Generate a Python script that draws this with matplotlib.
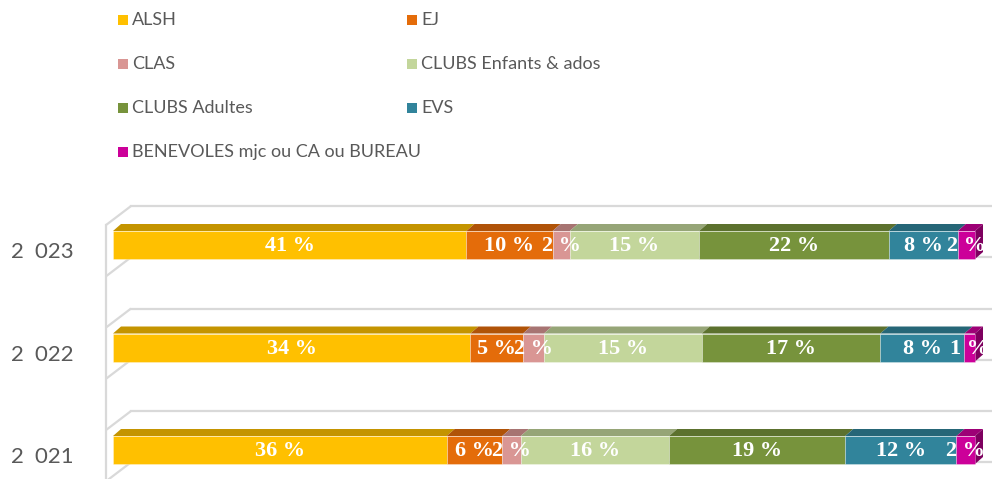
import matplotlib
matplotlib.use('Agg')
import matplotlib.pyplot as plt
from matplotlib.patches import Polygon, Rectangle
import matplotlib.colors as mcolors
import numpy as np

# ---------------- data ----------------
years = ['2 023', '2 022', '2 021']
series = ['ALSH', 'EJ', 'CLAS', 'CLUBS Enfants & ados', 'CLUBS Adultes', 'EVS',
          'BENEVOLES mjc ou CA ou BUREAU']
alsh = [41, 34, 36]
ej = [10, 5, 6]
clas = [2, 2, 2]
clubs_enfants = [15, 15, 16]
clubs_adultes = [22, 17, 19]
evs = [8, 8, 12]
benevoles = [2, 1, 2]
colors = ['#FFC000', '#E46C0A', '#D99694', '#C3D69B', '#77933C', '#31849B', '#CC0099']

values = np.array([alsh, ej, clas, clubs_enfants, clubs_adultes, evs, benevoles], dtype=float)

# ---------------- layout ----------------
W, H = 992, 479
fig = plt.figure(figsize=(W / 100, H / 100), dpi=100)
ax = fig.add_axes([0, 0, 1, 1])
px_x = 8.62      # pixels per percent unit
px_y = 102.5     # pixels per category unit
x0_px = 113
ycat_px = 245    # pixel row of top category centre
ax.set_xlim(-x0_px / px_x, (W - x0_px) / px_x)
ax.set_ylim(2 - (H - ycat_px) / px_y, 2 + ycat_px / px_y)
ax.axis('off')

n = len(years)
ypos = np.arange(n)[::-1]  # 2023 at top

def shade(c, f):
    r, g, b = mcolors.to_rgb(c)
    return (r * f, g * f, b * f)

# wall / gridlines
grid_c = '#D9D9D9'
wall_front_x = (106 - x0_px) / px_x
wall_back_x = (131 - x0_px) / px_x
wall_dy = 19 / px_y
back_lines = (n - 1) + 0.38 - 0.5 * np.arange(2 * n)
for yb in back_lines:
    ax.plot([wall_front_x, wall_back_x], [yb - wall_dy, yb], color=grid_c, lw=1.6, zorder=1,
            solid_capstyle='butt')
    ax.plot([wall_back_x, ax.get_xlim()[1]], [yb, yb], color=grid_c, lw=1.6, zorder=1)
ax.plot([wall_front_x, wall_front_x], [back_lines[0] - wall_dy, ax.get_ylim()[0]],
        color=grid_c, lw=1.6, zorder=1)

# bars
h = 14 / px_y
dx = 8 / px_x
dy = 7 / px_y
for j, yc in enumerate(ypos):
    col = values[:, j]
    shares = col / col.sum() * 100
    left = 0.0
    for i, (v, s) in enumerate(zip(col, shares)):
        c = colors[i]
        ax.add_patch(Rectangle((left, yc - h), s, 2 * h, facecolor=c,
                               edgecolor=mcolors.to_rgba('white', 0.35), lw=0.6, zorder=3))
        ax.add_patch(Polygon([(left, yc + h), (left + s, yc + h), (left + s + dx, yc + h + dy),
                              (left + dx, yc + h + dy)], closed=True,
                             facecolor=shade(c, 0.77), edgecolor='none', zorder=2.9))
        if i == len(col) - 1:
            r = left + s
            ax.add_patch(Polygon([(r, yc - h), (r + dx, yc - h + dy), (r + dx, yc + h + dy),
                                  (r, yc + h)], closed=True,
                                 facecolor=shade(c, 0.62), edgecolor='none', zorder=2.9))
        ax.text(left + s / 2, yc - 0.01, f'{v:.0f} %', ha='center', va='center',
                color='white', fontweight='bold', family='Liberation Serif',
                fontsize=16, zorder=5)
        left += s
    ax.text((42 - x0_px) / px_x, yc - 0.07, years[j].replace(' ', '\u2002'), ha='center',
            va='center', color='#595959', family='Lato',
            fontsize=16, zorder=5)

# legend
leg_cols = [118, 407]
leg_rows = [20, 64, 108, 152]
for k, name in enumerate(series):
    cx = leg_cols[k % 2]
    cy = leg_rows[k // 2]
    fig.add_artist(Rectangle((cx / W, 1 - (cy + 5) / H), 10 / W, 10 / H,
                             transform=fig.transFigure, facecolor=colors[k],
                             edgecolor='none'))
    fig.text((cx + 14) / W, 1 - cy / H, name, ha='left', va='center',
             color='#595959', family='Lato', fontsize=13)

fig.savefig('out.png', dpi=100)
